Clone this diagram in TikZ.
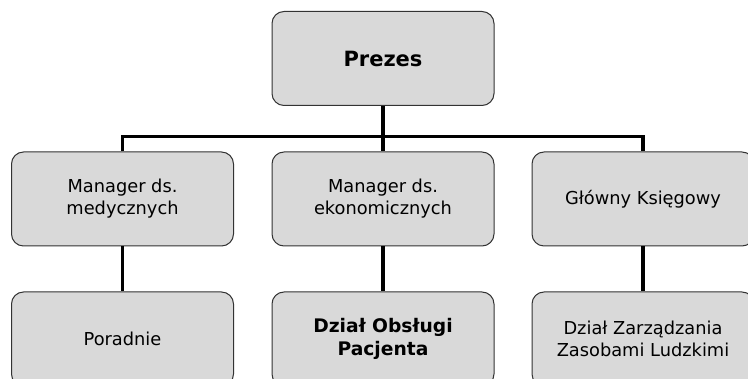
\documentclass[tikz,border=0pt]{standalone}
\usepackage{fontspec}
\setmainfont{DejaVu Sans}
\definecolor{boxfill}{HTML}{D9D9D9}
\definecolor{boxline}{HTML}{333333}
\tikzset{
  orgbox/.style={draw=boxline, line width=1pt, fill=boxfill, rounded corners=12pt,
    minimum width=222pt, minimum height=94pt, inner sep=0pt, align=center,
    font=\fontsize{17.8}{22}\selectfont},
  boldbox/.style={orgbox, font=\fontsize{18.7}{23}\selectfont\bfseries},
  topbox/.style={orgbox, font=\fontsize{21}{24}\selectfont\bfseries},
  link/.style={line width=3.3pt, black}
}
\begin{document}
\begin{tikzpicture}[x=1pt,y=-1pt]
\useasboundingbox (0,0) rectangle (748,379);
\clip (0,0) rectangle (748,379);
\node[topbox] (prezes) at (383,58.5) {Prezes};
\node[orgbox] (m1) at (122.5,199) {Manager ds.\\medycznych};
\node[orgbox] (m2) at (383,199) {Manager ds.\\ekonomicznych};
\node[orgbox] (m3) at (643,199) {Główny Księgowy};
\node[orgbox] (b1) at (122.5,339) {Poradnie};
\node[boldbox] (b2) at (383,339) {Dział Obsługi\\Pacjenta};
\node[orgbox] (b3) at (643,339) {Dział Zarządzania\\Zasobami Ludzkimi};
\coordinate (bus) at (383,136.5);
\draw[link] (prezes.south) -- (bus);
\draw[link] (m1.north) |- (bus) -| (m3.north);
\draw[link] (bus) -- (m2.north);
\draw[link] (m1.south) -- (b1.north);
\draw[link] (m2.south) -- (b2.north);
\draw[link] (m3.south) -- (b3.north);
\end{tikzpicture}
\end{document}
